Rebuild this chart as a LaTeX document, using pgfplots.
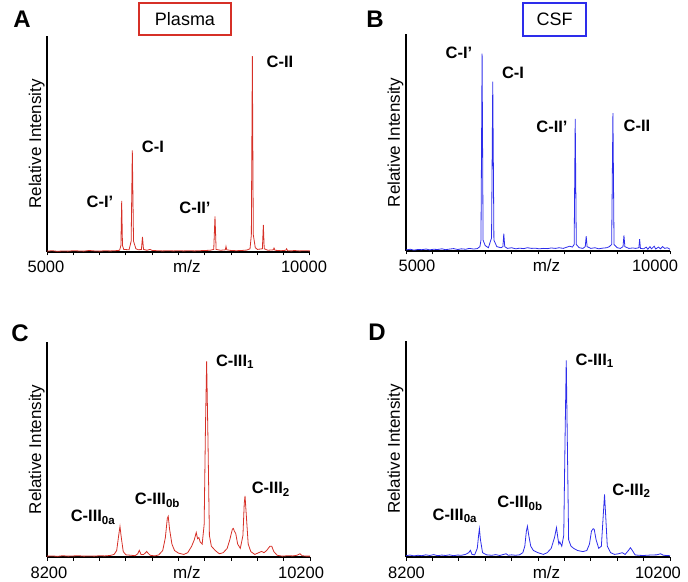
\documentclass[border=0pt]{standalone}
\usepackage{pgfplots}
\pgfplotsset{compat=1.18}
\usepackage{fontspec}
\setmainfont{Liberation Sans}
\definecolor{myred}{RGB}{214,48,39}
\definecolor{myblue}{RGB}{45,45,235}
\newcommand{\ax}{\fontsize{17}{19}\selectfont}
\newcommand{\tk}{\fontsize{16.5}{18}\selectfont}
\newcommand{\pk}{\fontsize{16.5}{19}\selectfont\bfseries}

\tikzset{tl/.style={font=\tk, anchor=base, yshift=-21pt}}
\pgfplotsset{
  spec/.style={
    scale only axis,
    anchor=south west,
    clip=false,
    axis x line*=bottom, axis y line*=left,
    x axis line style={-}, y axis line style={-},
    axis line style={line width=1.3pt, black},
    ymin=0, ymax=1,
    ytick=\empty,
    scaled x ticks=false,
    xticklabels=\empty,
    tick align=outside,
    major tick length=3.5pt,
    every tick/.style={black, line width=1pt},
    xlabel={m/z},
    every axis x label/.style={at={(axis description cs:0.532,0)}, anchor=base, font=\ax, yshift=-21pt},
    ylabel={Relative Intensity},
    every axis y label/.style={at={(axis description cs:-0.0228,0.5)}, rotate=90, anchor=base, font=\ax},
  },
  specA/.style={spec, xmin=5000, xmax=10000, xtick={5000,5500,...,10000}},
  specC/.style={spec, xmin=8200, xmax=10200, xtick={8200,8400,...,10200}},
}

\begin{document}
\begin{tikzpicture}[x=1pt,y=1pt]
\path[use as bounding box] (0,0) rectangle (688,581);

% ---------------- Panel A ----------------
\begin{axis}[specA, at={(47pt,329pt)}, width=263pt, height=216pt]
\addplot[myred, line width=0.8pt] coordinates {
(5000,0.004) (5100,0.006) (5200,0.003) (5300,0.005) (5400,0.004) (5500,0.006)
(5600,0.005) (5700,0.004) (5800,0.007) (5900,0.005) (6000,0.004) (6100,0.006)
(6200,0.005) (6300,0.006) (6380,0.008) (6405,0.03) (6420,0.237) (6435,0.03)
(6460,0.012) (6560,0.010) (6600,0.05) (6622,0.47) (6645,0.05) (6690,0.015)
(6740,0.01) (6795,0.012) (6815,0.07) (6835,0.012) (6900,0.008) (6960,0.012)
(7000,0.007) (7100,0.006) (7200,0.005) (7300,0.006) (7400,0.005) (7500,0.006)
(7600,0.005) (7700,0.006) (7800,0.005) (7900,0.006) (8000,0.007) (8100,0.008)
(8170,0.012) (8194,0.165) (8215,0.012) (8300,0.008) (8390,0.01) (8403,0.026)
(8418,0.01) (8500,0.007) (8600,0.006) (8700,0.007) (8800,0.009) (8860,0.015)
(8885,0.08) (8904,0.907) (8922,0.08) (8960,0.02) (9000,0.012) (9095,0.015)
(9113,0.126) (9130,0.015) (9200,0.008) (9300,0.01) (9316,0.018) (9335,0.008)
(9450,0.006) (9540,0.008) (9556,0.015) (9575,0.006) (9650,0.005) (9700,0.007)
(9800,0.005) (9900,0.006) (10000,0.005)
};
\node[font=\pk] at (axis cs:6008,0.231) {C-I’};
\node[font=\pk] at (axis cs:7015,0.486) {C-I};
\node[font=\pk] at (axis cs:7813,0.204) {C-II’};
\node[font=\pk] at (axis cs:9430,0.88) {C-II};
\node[tl] at (axis cs:4981,0) {5000};
\node[tl] at (axis cs:9886,0) {10000};
\end{axis}

% ---------------- Panel B ----------------
\begin{axis}[specA, at={(406pt,330pt)}, width=264pt, height=217pt]
\addplot[myblue, line width=0.8pt] coordinates {
(5000,0.005) (5080,0.008) (5150,0.004) (5230,0.007) (5300,0.006) (5380,0.009)
(5450,0.005) (5520,0.008) (5600,0.007) (5680,0.010) (5750,0.006) (5830,0.009)
(5900,0.011) (5980,0.007) (6050,0.010) (6130,0.008) (6200,0.012) (6280,0.009)
(6350,0.011) (6400,0.02) (6420,0.05) (6441,0.909) (6460,0.05) (6500,0.025)
(6560,0.015) (6620,0.06) (6643,0.781) (6665,0.05) (6720,0.02) (6800,0.015)
(6835,0.02) (6852,0.08) (6870,0.02) (6920,0.012) (7000,0.015) (7080,0.010)
(7150,0.013) (7230,0.011) (7300,0.015) (7380,0.012) (7450,0.013) (7520,0.010)
(7600,0.012) (7680,0.011) (7750,0.014) (7830,0.012) (7900,0.015) (7980,0.012)
(8050,0.018) (8100,0.022) (8150,0.018) (8185,0.03) (8205,0.609) (8225,0.03)
(8280,0.015) (8350,0.012) (8395,0.02) (8413,0.068) (8430,0.02) (8500,0.012)
(8580,0.015) (8650,0.010) (8720,0.013) (8800,0.015) (8850,0.02) (8895,0.03)
(8919,0.635) (8940,0.03) (9000,0.015) (9060,0.012) (9110,0.02) (9128,0.072)
(9145,0.02) (9220,0.012) (9300,0.014) (9350,0.012) (9410,0.015) (9425,0.054)
(9440,0.012) (9500,0.01) (9550,0.018) (9580,0.008) (9620,0.02) (9650,0.01)
(9700,0.022) (9730,0.009) (9780,0.018) (9820,0.01) (9860,0.02) (9900,0.012)
(9950,0.015) (10000,0.008)
};
\node[font=\pk] at (axis cs:6004,0.912) {C-I’};
\node[font=\pk] at (axis cs:7027,0.820) {C-I};
\node[font=\pk] at (axis cs:7765,0.571) {C-II’};
\node[font=\pk] at (axis cs:9375,0.576) {C-II};
\node[tl] at (axis cs:5208,0) {5000};
\node[tl] at (axis cs:9716,0) {10000};
\end{axis}

% ---------------- Panel C ----------------
\begin{axis}[specC, at={(47pt,24pt)}, width=263pt, height=215pt]
\addplot[myred, line width=0.8pt] coordinates {
(8200,0.004) (8240,0.005) (8280,0.003) (8320,0.006) (8360,0.004) (8400,0.005)
(8440,0.006) (8480,0.004) (8520,0.005) (8560,0.004) (8600,0.006) (8640,0.005)
(8680,0.007) (8710,0.012) (8730,0.03) (8745,0.10) (8755,0.142) (8765,0.09)
(8780,0.025) (8800,0.01) (8840,0.008) (8870,0.006) (8890,0.015) (8902,0.031)
(8915,0.012) (8935,0.012) (8950,0.02) (8958,0.026) (8968,0.018) (8985,0.008)
(9020,0.005) (9050,0.01) (9080,0.03) (9100,0.09) (9115,0.180) (9122,0.189)
(9132,0.13) (9150,0.06) (9170,0.03) (9200,0.018) (9240,0.012) (9270,0.02)
(9300,0.05) (9320,0.08) (9335,0.114) (9345,0.085) (9355,0.09) (9365,0.07)
(9380,0.06) (9395,0.15) (9405,0.6) (9414,0.910) (9424,0.55) (9435,0.1)
(9450,0.05) (9465,0.04) (9480,0.03) (9510,0.015) (9540,0.02) (9570,0.04)
(9590,0.08) (9610,0.13) (9617,0.133) (9625,0.12) (9635,0.11) (9650,0.06)
(9670,0.04) (9690,0.10) (9700,0.25) (9706,0.284) (9715,0.2) (9730,0.06)
(9750,0.025) (9780,0.012) (9810,0.02) (9832,0.026) (9850,0.02) (9870,0.03)
(9895,0.05) (9909,0.05) (9925,0.025) (9950,0.008) (9990,0.004) (10030,0.006)
(10070,0.005) (10100,0.008) (10124,0.015) (10140,0.006) (10170,0.004) (10200,0.004)
};
\node[font=\pk] at (axis cs:8550,0.186) {C-III\textsubscript{0a}};
\node[font=\pk] at (axis cs:9040,0.265) {C-III\textsubscript{0b}};
\node[font=\pk] at (axis cs:9630,0.908) {C-III\textsubscript{1}};
\node[font=\pk] at (axis cs:9902,0.316) {C-III\textsubscript{2}};
\node[tl] at (axis cs:8215,0) {8200};
\node[tl] at (axis cs:10132,0) {10200};
\end{axis}

% ---------------- Panel D ----------------
\begin{axis}[specC, at={(406pt,24pt)}, width=264pt, height=216pt]
\addplot[myblue, line width=0.8pt] coordinates {
(8200,0.006) (8230,0.009) (8260,0.005) (8290,0.008) (8320,0.006) (8350,0.010)
(8380,0.007) (8410,0.011) (8440,0.006) (8470,0.009) (8500,0.007) (8530,0.010)
(8560,0.006) (8590,0.009) (8620,0.008) (8650,0.012) (8675,0.02) (8688,0.031)
(8700,0.012) (8720,0.01) (8740,0.04) (8750,0.10) (8756,0.131) (8764,0.08)
(8780,0.02) (8810,0.01) (8850,0.008) (8880,0.011) (8910,0.007) (8940,0.012)
(8958,0.015) (8975,0.008) (9000,0.01) (9030,0.008) (9060,0.01) (9085,0.02)
(9100,0.05) (9112,0.12) (9120,0.142) (9130,0.10) (9145,0.05) (9165,0.03)
(9200,0.02) (9240,0.012) (9270,0.02) (9300,0.04) (9325,0.09) (9340,0.136)
(9350,0.09) (9358,0.06) (9365,0.07) (9380,0.05) (9395,0.1) (9405,0.55)
(9414,0.910) (9423,0.5) (9432,0.08) (9450,0.05) (9470,0.04) (9500,0.03)
(9540,0.025) (9570,0.03) (9590,0.06) (9605,0.12) (9618,0.131) (9626,0.128)
(9640,0.08) (9660,0.04) (9680,0.05) (9695,0.2) (9704,0.29) (9712,0.2)
(9725,0.05) (9750,0.02) (9780,0.012) (9810,0.015) (9838,0.02) (9860,0.012)
(9885,0.03) (9900,0.043) (9915,0.03) (9935,0.01) (9960,0.008) (10000,0.007)
(10050,0.009) (10100,0.01) (10129,0.015) (10150,0.008) (10200,0.006)
};
\node[font=\pk] at (axis cs:8570,0.191) {C-III\textsubscript{0a}};
\node[font=\pk] at (axis cs:9064,0.25) {C-III\textsubscript{0b}};
\node[font=\pk] at (axis cs:9630,0.908) {C-III\textsubscript{1}};
\node[font=\pk] at (axis cs:9908,0.306) {C-III\textsubscript{2}};
\node[tl] at (axis cs:8204,0) {8200};
\node[tl] at (axis cs:10109,0) {10200};
\end{axis}

% titles and panel letters
\node[draw=myred, line width=1.8pt, minimum width=92pt, minimum height=32pt, inner sep=0pt, font=\fontsize{18}{20}\selectfont] at (185,562) {Plasma};
\node[draw=myblue, line width=1.8pt, minimum width=63pt, minimum height=33pt, inner sep=0pt, font=\fontsize{18}{20}\selectfont] at (554.5,561.5) {CSF};
\node[font=\fontsize{24}{26}\selectfont\bfseries] at (22,562) {A};
\node[font=\fontsize{24}{26}\selectfont\bfseries] at (375,562) {B};
\node[font=\fontsize{24}{26}\selectfont\bfseries] at (20,248) {C};
\node[font=\fontsize{24}{26}\selectfont\bfseries] at (377,248.5) {D};
\end{tikzpicture}
\end{document}
